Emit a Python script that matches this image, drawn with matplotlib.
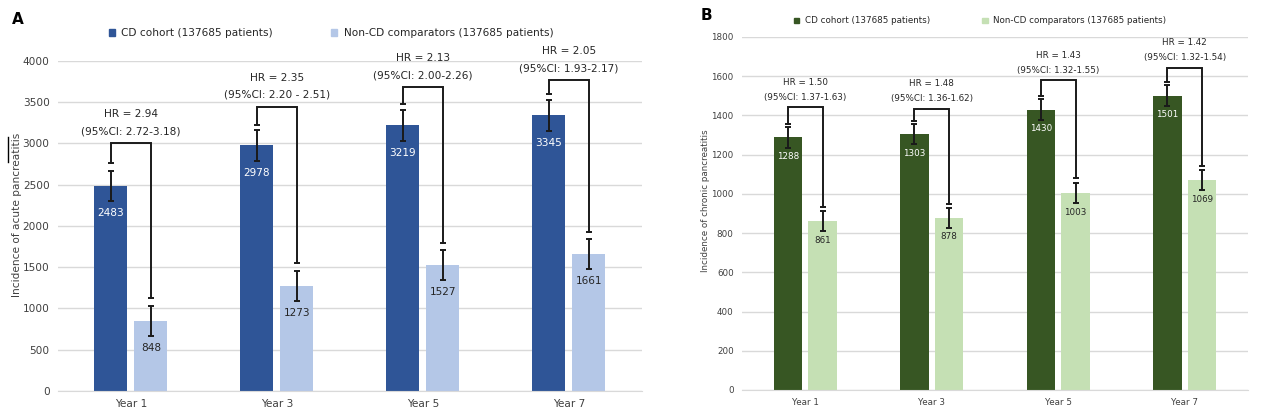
import numpy as np
import matplotlib
matplotlib.use('Agg')
import matplotlib.pyplot as plt
from matplotlib.patches import Patch
from matplotlib.lines import Line2D

# Data
years = ['Year 1', 'Year 3', 'Year 5', 'Year 7']

acute_cd = [2483, 2978, 3219, 3345]
acute_non = [848, 1273, 1527, 1661]
acute_cd_err = [185, 190, 190, 188]
acute_non_err = [180, 180, 182, 178]
acute_hr = ['2.94', '2.35', '2.13', '2.05']
acute_ci = ['2.72-3.18', '2.20 - 2.51', '2.00-2.26', '1.93-2.17']
acute_bracket_top = [3000, 3446, 3681, 3766]
acute_cap_cd = [2764, 3224, 3479, 3600]
acute_cap_non = [1127, 1555, 1798, 1923]

chronic_cd = [1288, 1303, 1430, 1501]
chronic_non = [861, 878, 1003, 1069]
chronic_cd_err = [52, 51, 53, 52]
chronic_non_err = [51, 50, 51, 51]
chronic_hr = ['1.50', '1.48', '1.43', '1.42']
chronic_ci = ['1.37-1.63', '1.36-1.62', '1.32-1.55', '1.32-1.54']
chronic_bracket_top = [1442, 1433, 1579, 1644]
chronic_cap_cd = [1356, 1373, 1501, 1572]
chronic_cap_non = [935, 948, 1080, 1144]

legend_labels = ['CD cohort (137685 patients)', 'Non-CD comparators (137685 patients)']

plt.rcParams['font.family'] = ['DejaVu Sans']

fig = plt.figure(figsize=(12.68, 4.18), dpi=100)
ax_a = fig.add_axes([0.0457, 0.0646, 0.4606, 0.7895])
ax_b = fig.add_axes([0.5852, 0.0670, 0.3990, 0.8445])

PX = 0.72  # points per pixel at 100 dpi


def draw_panel(ax, cd, non, cd_err, non_err, hr, ci, top, cap_cd, cap_non,
               colors, ymax, ystep, fs, ylabel, hr_off, ci_off, lab_off, label_xy):
    x = np.arange(len(years))
    w = 0.226
    off = 0.137
    ax.bar(x - off, cd, w, color=colors[0], zorder=2)
    ax.bar(x + off, non, w, color=colors[1], zorder=2)
    ax.errorbar(x - off, cd, yerr=cd_err, fmt='none', ecolor='#1a1a1a',
                elinewidth=1.4, capsize=2.4, capthick=1.4, zorder=3)
    ax.errorbar(x + off, non, yerr=non_err, fmt='none', ecolor='#1a1a1a',
                elinewidth=1.4, capsize=2.4, capthick=1.4, zorder=3)
    for i in range(len(years)):
        xc, xn = x[i] - off, x[i] + off
        ax.plot([xc, xc, xn, xn], [cap_cd[i], top[i], top[i], cap_non[i]],
                color='#1a1a1a', lw=1.4, zorder=3, solid_joinstyle='miter')
        ax.plot([xc, xn], [cap_cd[i], cap_non[i]], ls='none', marker='_',
                ms=4.8, mew=1.4, color='#1a1a1a', zorder=3)
        ax.annotate('HR = ' + hr[i], (x[i], top[i]), xytext=(0, hr_off * PX),
                    textcoords='offset points', ha='center', va='center',
                    fontsize=fs, color='#262626')
        ax.annotate('(95%CI: ' + ci[i] + ')', (x[i], top[i]), xytext=(0, ci_off * PX),
                    textcoords='offset points', ha='center', va='center',
                    fontsize=fs, color='#262626')
        ax.annotate(str(cd[i]), (xc, cd[i] - cd_err[i]), xytext=(0, -lab_off * PX),
                    textcoords='offset points', ha='center', va='center',
                    fontsize=fs, color='white')
        ax.annotate(str(non[i]), (xn, non[i] - non_err[i]), xytext=(0, -lab_off * PX),
                    textcoords='offset points', ha='center', va='center',
                    fontsize=fs, color='#262626')
    ax.set_xlim(-0.5, len(years) - 0.5)
    ax.set_ylim(0, ymax)
    ax.set_yticks(np.arange(0, ymax + 1, ystep))
    ax.set_xticks(x)
    ax.set_xticklabels(years)
    ax.tick_params(length=0, labelsize=fs, colors='#404040', pad=6)
    ax.grid(axis='y', color='#d9d9d9', lw=1, zorder=0)
    ax.set_axisbelow(True)
    for s in ['left', 'right', 'top']:
        ax.spines[s].set_visible(False)
    ax.spines['bottom'].set_color('#d9d9d9')
    ax.set_ylabel(ylabel, fontsize=fs, color='#404040', va='center')
    ax.yaxis.set_label_coords(*label_xy)


draw_panel(ax_a, acute_cd, acute_non, acute_cd_err, acute_non_err, acute_hr,
           acute_ci, acute_bracket_top, acute_cap_cd, acute_cap_non,
           ['#2f5597', '#b4c7e7'], 4000, 500, 7.6,
           'Incidence of acute pancreatitis', 29, 12, 12, (-0.070, 0.533))
draw_panel(ax_b, chronic_cd, chronic_non, chronic_cd_err, chronic_non_err, chronic_hr,
           chronic_ci, chronic_bracket_top, chronic_cap_cd, chronic_cap_non,
           ['#375623', '#c5e0b4'], 1800, 200, 6.3,
           'Incidence of chronic pancreatitis', 25, 10, 9, (-0.073, 0.535))

fig.legend([Patch(color='#2f5597'), Patch(color='#b4c7e7')], legend_labels,
           loc='center', bbox_to_anchor=(0.261, 0.921), ncol=2, frameon=False,
           fontsize=7.6, handlelength=0.6, handleheight=0.6, handletextpad=0.6,
           columnspacing=5.5, labelcolor='#262626')
fig.legend([Patch(color='#375623'), Patch(color='#c5e0b4')], legend_labels,
           loc='center', bbox_to_anchor=(0.773, 0.950), ncol=2, frameon=False,
           fontsize=6.3, handlelength=0.6, handleheight=0.6, handletextpad=0.6,
           columnspacing=6.0, labelcolor='#262626')

fig.text(12 / 1268, 1 - 20 / 418, 'A', fontsize=11, fontweight='bold', va='center', ha='left')
fig.text(701 / 1268, 1 - 15 / 418, 'B', fontsize=11, fontweight='bold', va='center', ha='left')

# small stray stroke next to the y-label in panel A
fig.add_artist(Line2D([7.5 / 1268, 7.5 / 1268], [1 - 137 / 418, 1 - 162 / 418],
                      color='black', lw=1))

fig.savefig('out.png', dpi=100)
